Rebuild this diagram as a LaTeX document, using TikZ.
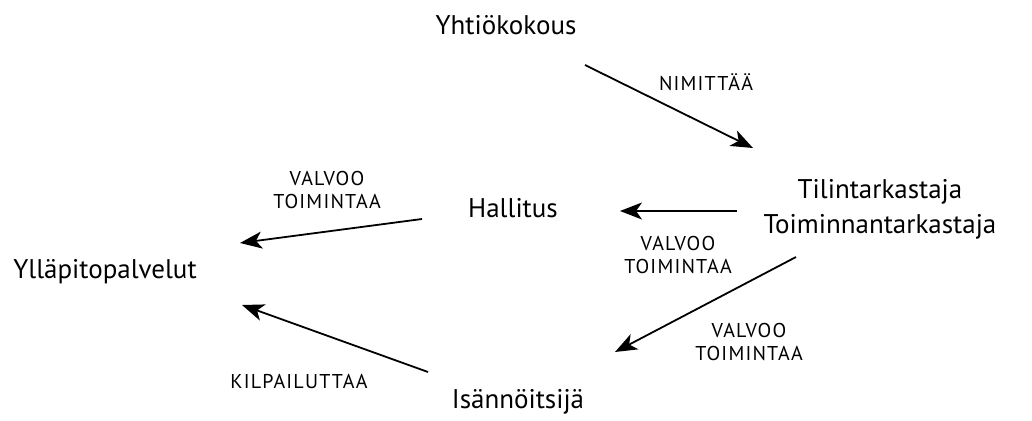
\documentclass[tikz,border=0pt]{standalone}
\usepackage{fontspec}
\setmainfont{PT Sans}
\newfontfamily\lblfont[LetterSpace=6]{PT Sans}
\usetikzlibrary{arrows.meta,calc}
\begin{document}
\begin{tikzpicture}[x=1pt,y=-1pt,
  main/.style={inner sep=0pt,font=\fontsize{27}{35}\selectfont,align=center},
  lbl/.style={inner sep=0pt,font=\lblfont\fontsize{20}{23}\selectfont,align=center},
  arr/.style={line width=1.8pt,-{Stealth[length=22pt,width=17pt,inset=6pt]}}]
\useasboundingbox (0,0) rectangle (1032,420);
\node[main] (yh) at (506,25) {Yhtiökokous};
\node[main] (ha) at (513,208) {Hallitus};
\node[main] (tt) at (880,209) {Tilintarkastaja\\Toiminnantarkastaja};
\node[main] (yl) at (105,272) {Ylläpitopalvelut};
\node[main] (is) at (518,402) {Isännöitsijä};
\node[lbl] (l1) at (706,82) {NIMITTÄÄ};
\node[lbl] (l2) at (327,190) {VALVOO\\TOIMINTAA};
\node[lbl] (l3) at (678,255) {VALVOO\\TOIMINTAA};
\node[lbl] (l4) at (749,342) {VALVOO\\TOIMINTAA};
\node[lbl] (l5) at (299,381) {KILPAILUTTAA};
\draw[arr] ($(yh)+(79,40)$) -- ($(tt)+(-127,-61)$);
\draw[arr] ($(tt)+(-143,2)$) -- ($(ha)+(107,3)$);
\draw[arr] ($(ha)+(-91,11)$) -- ($(yl)+(135,-29)$);
\draw[arr] ($(tt)+(-84,48)$) -- ($(is)+(97,-50)$);
\draw[arr] ($(is)+(-90,-30)$) -- ($(yl)+(137,33)$);
\end{tikzpicture}
\end{document}
